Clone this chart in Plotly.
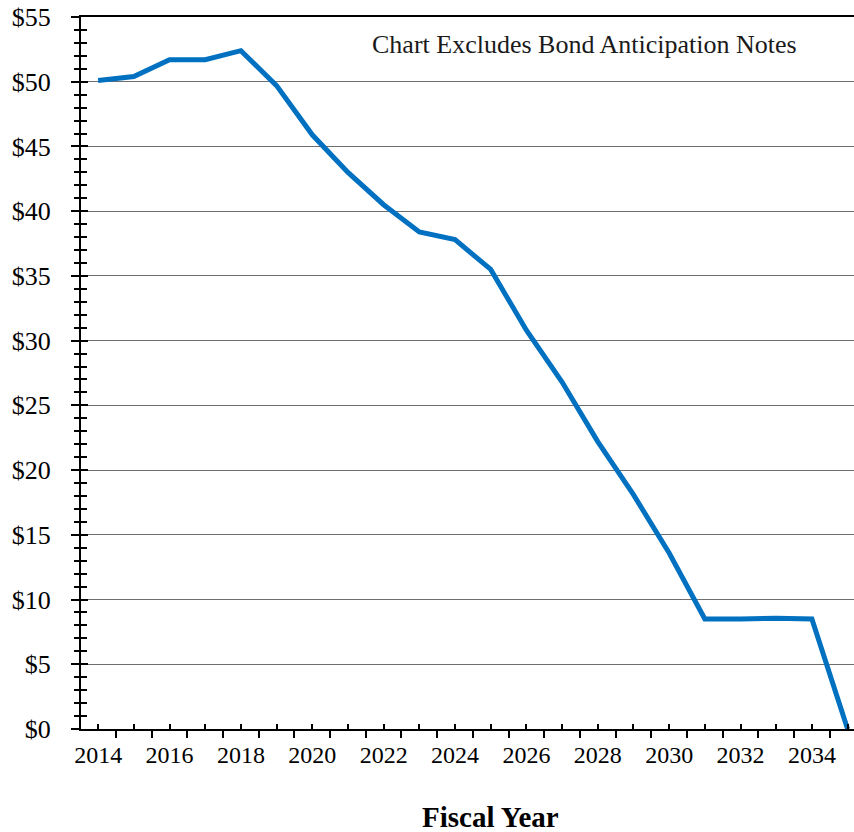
import plotly.graph_objects as go

years = list(range(2014, 2036))
debt = [50.1, 50.4, 51.7, 51.7, 52.4, 49.7, 45.9, 43.0, 40.5, 38.4, 37.8, 35.5,
        30.8, 26.8, 22.2, 18.1, 13.6, 8.5, 8.5, 8.55, 8.5, 0.0]

x_range = [2013.52, 2035.18]
y_range = [0, 55]
serif = "Liberation Serif, Times New Roman, serif"

fig = go.Figure()
fig.add_trace(go.Scatter(x=years, y=debt, mode="lines",
                         line=dict(color="#0070C0", width=5),
                         hoverinfo="x+y", showlegend=False))
# invisible helper trace so secondary tick axes are drawn
fig.add_trace(go.Scatter(x=years, y=debt, mode="lines", xaxis="x2", yaxis="y2",
                         line=dict(width=0), opacity=0, hoverinfo="skip",
                         showlegend=False))

fig.update_layout(
    width=854, height=832,
    margin=dict(l=81, r=0, t=17, b=103),
    paper_bgcolor="white", plot_bgcolor="white",
    font=dict(family=serif, color="black"),
    xaxis=dict(range=x_range, tickmode="linear", tick0=2014, dtick=2,
               ticks="inside", ticklen=5, tickwidth=1.5, tickcolor="black",
               minor=dict(dtick=1, tick0=2014, ticks="inside", ticklen=5,
                          tickwidth=1.5, tickcolor="black", showgrid=False),
               showline=True, linecolor="black", linewidth=2, mirror=True,
               showgrid=False, zeroline=False,
               tickfont=dict(size=24, family=serif), ticklabelstandoff=3),
    xaxis2=dict(range=x_range, overlaying="x", anchor="y", side="bottom",
                tickmode="linear", tick0=2013.5, dtick=1,
                ticks="outside", ticklen=8, tickwidth=1.5, tickcolor="black",
                showticklabels=False, showgrid=False, zeroline=False,
                showline=False),
    yaxis=dict(range=y_range, tickmode="linear", tick0=0, dtick=5,
               tickprefix="$", ticks="outside", ticklen=8, tickwidth=1.5,
               tickcolor="black",
               minor=dict(dtick=1, ticks="outside", ticklen=5, tickwidth=1.5,
                          tickcolor="black", showgrid=False),
               showline=True, linecolor="black", linewidth=2,
               showgrid=True, gridcolor="#6e6e6e", gridwidth=1.3,
               zeroline=False,
               tickfont=dict(size=26, family=serif), ticklabelstandoff=15),
    yaxis2=dict(range=y_range, overlaying="y", anchor="x", side="left",
                tickmode="linear", tick0=0, dtick=5,
                ticks="inside", ticklen=7, tickwidth=1.5, tickcolor="black",
                minor=dict(dtick=1, ticks="inside", ticklen=6, tickwidth=1.5,
                           tickcolor="black", showgrid=False),
                showticklabels=False, showgrid=False, zeroline=False,
                showline=False),
    annotations=[
        dict(text="Chart Excludes Bond Anticipation Notes", xref="paper",
             yref="paper", x=(584 - 81) / 773, y=(729 - 45) / 712,
             xanchor="center", yanchor="middle", showarrow=False,
             font=dict(size=26, family=serif, color="#1a1a1a")),
        dict(text="<b>Fiscal Year</b>", xref="paper", yref="paper",
             x=(491 - 81) / 773, y=-(817 - 729) / 712,
             xanchor="center", yanchor="middle", showarrow=False,
             font=dict(size=29, family=serif, color="black")),
    ],
)

fig.write_html("out.html",
               config={"displayModeBar": False},
               post_script="document.body.style.margin='0';"
                           "document.body.style.overflow='hidden';")
